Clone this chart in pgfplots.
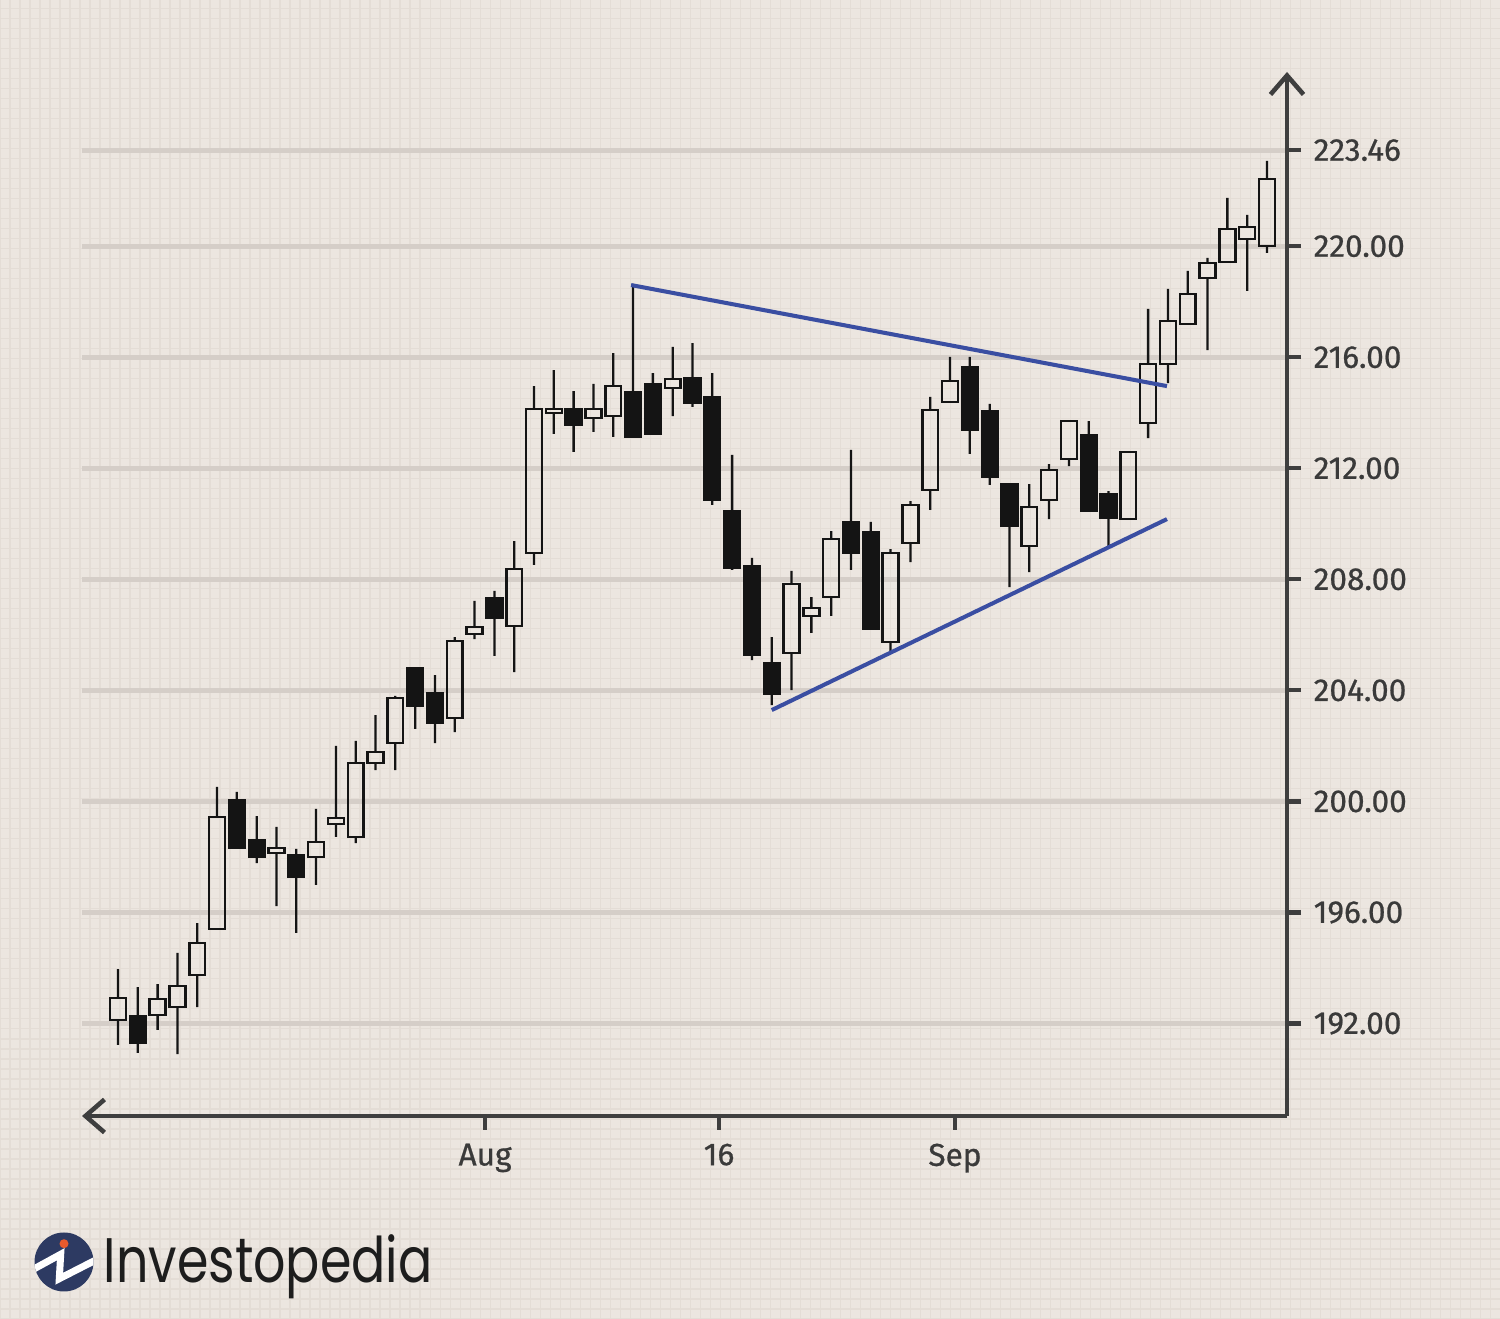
\documentclass[border=0pt]{standalone}
\usepackage{fontspec}
\setmainfont{Fira Sans}
\newfontfamily\lblfont{Fira Sans}[FakeBold=0.7]
\newfontfamily\logofont{Poppins}
\usepackage{graphicx}
\usepackage{pgfplots}
\pgfplotsset{compat=1.18}
\usepackage{pgfplotstable}
\usetikzlibrary{arrows.meta}
\definecolor{bg}{HTML}{ECE6E0}
\definecolor{finegrid}{HTML}{E4DDD6}
\definecolor{majgrid}{HTML}{D5CEC8}
\definecolor{axisc}{HTML}{3E3E3E}
\definecolor{labelc}{HTML}{3A3A3A}
\definecolor{candle}{HTML}{141414}
\definecolor{trend}{HTML}{3A4EA2}
\definecolor{navy}{HTML}{2D3A62}
\definecolor{orangedot}{HTML}{E85A2C}
\definecolor{logotext}{HTML}{1D1D1D}

\pgfplotstableread{
i o h l c
0 192.13 193.96 191.23 192.92
1 192.27 193.31 190.94 191.30
2 192.31 193.42 191.77 192.88
3 192.59 194.54 190.90 193.35
4 193.75 195.62 192.59 194.90
5 195.40 200.52 195.40 199.44
6 200.05 200.34 198.32 198.32
7 198.61 199.47 197.78 198.00
8 198.14 199.08 196.23 198.32
9 198.07 198.29 195.26 197.28
10 198.00 199.73 196.99 198.54
11 199.19 202.00 198.72 199.40
12 198.72 202.18 198.50 201.38
13 201.38 203.11 201.13 201.78
14 202.10 203.80 201.13 203.73
15 204.81 204.81 202.61 203.44
16 203.91 204.55 202.10 202.82
17 203.01 205.92 202.50 205.78
18 206.03 207.22 205.85 206.28
19 207.33 207.58 205.24 206.61
20 206.32 209.38 204.66 208.37
21 208.95 214.96 208.52 214.14
22 213.99 215.54 213.24 214.14
23 214.14 214.78 212.59 213.56
24 213.81 215.04 213.31 214.14
25 213.88 216.15 213.13 214.96
26 214.75 218.64 213.13 213.13
27 215.04 215.43 213.24 213.24
28 214.89 216.37 213.88 215.22
29 215.25 216.51 214.21 214.35
30 214.57 215.43 210.68 210.86
31 210.46 212.48 208.34 208.41
32 208.48 208.77 205.09 205.27
33 204.99 205.92 203.47 203.87
34 205.35 208.30 204.01 207.83
35 206.68 207.36 206.07 206.97
36 207.36 209.74 206.68 209.45
37 210.07 212.66 208.34 208.95
38 209.71 210.07 206.21 206.21
39 205.74 209.09 205.38 208.95
40 209.31 210.82 208.62 210.68
41 211.22 214.57 210.50 214.10
42 214.39 216.01 214.39 215.14
43 215.65 216.01 212.52 213.38
44 214.06 214.32 211.40 211.69
45 211.43 211.43 207.72 209.92
46 209.20 211.43 208.26 210.61
47 210.86 212.15 210.17 211.94
48 212.33 213.70 212.08 213.70
49 213.20 213.70 210.46 210.46
50 211.07 211.18 209.20 210.21
51 210.17 212.59 210.17 212.59
52 213.63 217.74 213.09 215.76
53 215.76 218.46 215.07 217.31
54 217.20 219.11 217.20 218.28
55 218.86 219.58 216.26 219.40
56 219.43 221.74 219.43 220.62
57 220.26 221.13 218.39 220.69
58 220.01 223.07 219.76 222.42
}\candles

\pgfplotsset{common/.style={at={(0.82cm,2.03cm)}, anchor=south west, scale only axis,
  width=12.05cm, height=10.44cm, xmin=-1.817, xmax=59.01, ymin=188.668, ymax=226.276}}

\begin{document}
\begin{tikzpicture}[x=1cm,y=1cm]
\path[use as bounding box, fill=bg] (0,0) rectangle (15,13.19);
\draw[finegrid, line width=0.3pt, step=0.1] (0,0) grid (15,13.19);

% main axis: grid, axis lines, ticks
\begin{axis}[common,
  axis x line*=bottom, axis y line*=right,
  axis line style={axisc, line width=1.3pt},
  x axis line style={{Straight Barb[length=1.9mm,width=3.3mm]}-},
  y axis line style={-{Straight Barb[length=1.9mm,width=3.3mm]}},
  tick align=outside, major tick length=0.14cm,
  major tick style={axisc, line width=1.2pt},
  minor tick num=0,
  ytick={192,196,200,204,208,212,216,220,223.46},
  yticklabels={192.00,196.00,200.00,204.00,208.00,212.00,216.00,220.00,223.46},
  xtick={18.53,30.34,42.25}, xticklabels={Aug,16,Sep},
  ymajorgrids, major grid style={majgrid, line width=1.4pt},
  ticklabel style={font=\lblfont\fontsize{9}{11}\selectfont, text=labelc},
  yticklabel style={anchor=west, inner sep=0pt, xshift=0.12cm},
  xticklabel style={anchor=north, inner sep=0pt, yshift=-0.13cm},
]
\end{axis}

% candles
\begin{axis}[common, hide axis, ybar stacked]
\addplot[draw=none, fill=none, bar width=0.8] table[x=i, y=l]{\candles};
\addplot[fill=candle, draw=none, bar width=0.65pt] table[x=i, y expr={min(\thisrow{o},\thisrow{c})-\thisrow{l}}]{\candles};
\addplot[fill=none, draw=candle, line width=0.7pt, bar width=0.8] table[x=i, y expr={max(\thisrow{c}-\thisrow{o},0)}]{\candles};
\addplot[fill=candle, draw=candle, line width=0.7pt, bar width=0.8] table[x=i, y expr={max(\thisrow{o}-\thisrow{c},0)}]{\candles};
\addplot[fill=candle, draw=none, bar width=0.65pt] table[x=i, y expr={\thisrow{h}-max(\thisrow{o},\thisrow{c})}]{\candles};
\end{axis}

% trend lines
\begin{axis}[common, hide axis]
\addplot[trend, line width=1.15pt] coordinates {(25.9,218.60) (52.95,214.96)};
\addplot[trend, line width=1.15pt] coordinates {(33.0,203.29) (52.95,210.17)};
\end{axis}

% logo
\begin{scope}
\fill[navy] (0.64,0.57) circle (0.295);
\clip (0.64,0.57) circle (0.295);
\draw[white, line width=0.07cm, line join=miter] (0.30,0.479) -- (0.607,0.647) -- (0.593,0.403) -- (0.98,0.601);
\end{scope}
\fill[orangedot] (0.64,0.753) circle (0.045);
\node[anchor=base west, inner sep=0pt, text=logotext] at (1.03,0.36)
  {\resizebox{3.29cm}{\height}{\logofont\fontsize{17.9}{20}\selectfont Investopedia}};
\end{tikzpicture}
\end{document}
